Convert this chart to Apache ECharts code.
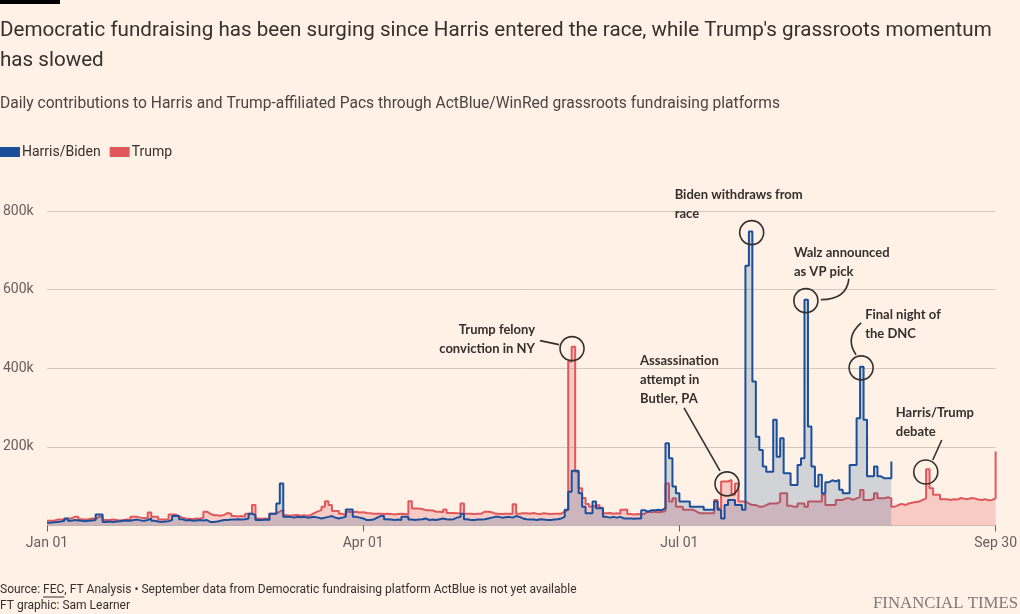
<!DOCTYPE html>
<html><head><meta charset="utf-8">
<script src="https://cdn.jsdelivr.net/npm/echarts@6/dist/echarts.min.js"></script>
<style>html,body{margin:0;padding:0;background:#fff1e5;}#c{width:1020px;height:614px;}</style>
</head><body><div id="c"></div>
<script>
// ---- data (thousands of US$ per day; index 0 = Jan 01 2024) ----
const seriesNames = ['Harris/Biden', 'Trump'];
const xTickLabels = ['Jan 01', 'Apr 01', 'Jul 01', 'Sep 30'];
const yTickLabels = ['', '200k', '400k', '600k', '800k'];

const harrisJan = [7,8,9,10,12,18,12,14,13,12,11,12,13,14,28,28,9,10,9,10,11,12,13,12,14,15,13,12,14,18,12];
const harrisFeb = [10,9,10,11,14,24,24,16,13,14,12,13,14,13,14,9,9,10,12,14,14,15,15,16,15,16,18,30,26];
const harrisMar = [14,14,15,14,30,30,56,107,22,22,20,22,21,22,20,21,22,20,18,20,22,24,20,18,20,22,41,41,22,20,18];
const harrisApr = [14,14,15,20,24,24,16,15,14,15,14,22,22,15,14,15,16,18,14,15,14,16,18,16,15,16,20,22,30,16];
const harrisMay = [14,14,15,15,16,18,20,22,22,20,21,22,20,24,22,18,16,15,15,14,16,15,14,14,15,16,18,22,40,86,139];
const harrisJun = [139,82,48,31,31,61,44,44,22,20,22,20,22,18,18,18,17,18,18,39,35,39,39,40,39,44,209,171,99,82];
const harrisJul = [61,61,61,48,48,48,48,40,40,40,61,40,18,52,65,65,52,52,40,661,748,366,226,192,150,137,137,269,175,222,133];
const harrisAug = [133,103,103,154,171,574,252,150,99,129,82,110,115,112,116,91,82,82,154,154,273,404,269,125,125,150,125,120,120,120,163];

const trumpJan = [12,12,15,15,15,18,18,22,22,16,15,16,18,17,22,22,14,14,15,14,13,14,15,14,22,22,20,19,20,33,22];
const trumpFeb = [22,15,15,16,28,28,24,20,18,17,16,18,17,20,35,30,26,26,25,27,32,30,24,23,24,22,30,30,52];
const trumpMar = [18,17,18,16,30,30,35,40,26,25,26,27,25,26,25,27,32,36,39,48,62,52,37,37,30,26,35,34,35,33,34];
const trumpApr = [32,31,30,30,30,29,30,29,28,29,30,29,28,62,43,43,42,39,39,38,35,35,34,41,32,32,31,32,56,30];
const trumpMay = [30,29,30,30,35,35,34,30,30,29,30,30,29,54,30,31,31,30,32,30,29,31,30,29,30,30,30,35,40,417,455];
const trumpJun = [137,95,70,55,48,50,52,45,31,32,30,31,30,40,41,29,28,29,28,30,35,34,35,34,35,36,107,61,69,48];
const trumpJul = [48,40,40,40,35,31,31,31,31,31,65,44,112,112,116,78,107,61,61,56,52,52,48,48,52,56,56,56,60,82,82];
const trumpAug = [50,48,48,56,56,48,61,61,61,61,78,52,52,52,65,65,69,69,65,69,73,90,65,65,68,82,69,69,72,69,48];
const trumpSep = [52,55,52,56,58,60,61,65,69,143,95,78,78,67,67,65,67,66,70,68,67,70,69,66,65,67,64,65,69,188];

const harris = [].concat(harrisJan, harrisFeb, harrisMar, harrisApr, harrisMay, harrisJun, harrisJul, harrisAug);
const trump = [].concat(trumpJan, trumpFeb, trumpMar, trumpApr, trumpMay, trumpJun, trumpJul, trumpAug, trumpSep);

// annotations: anchored at [day, value]
const annotations = [
  {lines: ['Biden withdraws from', 'race'], at: [202.8, 745], text: [-77, -38], align: 'left', leader: null},
  {lines: ['Walz announced', 'as VP pick'], at: [218.4, 572], text: [-12, -48], align: 'left', leader: {type: 'curve', p: [15, -1, 43, -22, 41, -1]}},
  {lines: ['Final night of', 'the DNC'], at: [234.3, 401], text: [4, -53], align: 'left', leader: {type: 'curve', p: [0, -45, -5, -13, -17, -30]}},
  {lines: ['Trump felony', 'conviction in NY'], at: [151.1, 450], text: [-37, -19], align: 'right', leader: {type: 'line', p: [-32, -8, -13, -4]}},
  {lines: ['Assassination', 'attempt in', 'Butler, PA'], at: [195.7, 106], text: [-87, -123], align: 'left', leader: {type: 'line', p: [-43, -76, -7, -13]}},
  {lines: ['Harris/Trump', 'debate'], at: [252.9, 136], text: [-30, -59], align: 'left', leader: {type: 'line', p: [16, -32, 7, -12]}}
];

const BG = '#fff1e5', INK = '#33302e', GREY = '#66605c';
const BLUE = '#1b4f9c', RED = '#e0585c';
const FONT = 'Roboto, "Liberation Sans", sans-serif';
const ANN_FONT = 'Lato, "Open Sans", sans-serif';

const chart = echarts.init(document.getElementById('c'), null, {renderer: 'canvas'});
const option = {
  backgroundColor: BG,
  animation: false,
  textStyle: {fontFamily: FONT},
  grid: {left: 44, right: 22, top: 211, bottom: 88.5, containLabel: false},
  legend: {
    data: seriesNames, left: 0, top: 145, padding: 0, icon: 'rect', itemWidth: 20, itemHeight: 10, itemGap: 9,
    textStyle: {fontSize: 14, color: INK, fontFamily: FONT, padding: [0, 0, 0, -3]}
  },
  xAxis: {
    type: 'value', min: 0, max: 273, interval: 91,
    axisLine: {show: false},
    axisTick: {show: true, length: 6, lineStyle: {color: GREY}},
    splitLine: {show: false},
    axisLabel: {color: GREY, fontSize: 14, margin: 11, showMaxLabel: true,
      formatter: v => xTickLabels[Math.round(v / 91)] || ''}
  },
  yAxis: {
    type: 'value', min: 0, max: 800, interval: 200,
    axisLine: {show: false}, axisTick: {show: false},
    splitLine: {lineStyle: {color: '#d3c8bd', width: 1}},
    axisLabel: {color: GREY, fontSize: 14, margin: 44, align: 'left',
      formatter: v => yTickLabels[Math.round(v / 200)]}
  },
  series: [
    {
      name: seriesNames[0], type: 'line', step: 'end', symbol: 'none', color: BLUE, z: 3,
      data: harris.map((v, i) => [i, v]),
      lineStyle: {color: BLUE, width: 2},
      areaStyle: {color: 'rgba(15,84,153,0.27)'}
    },
    {
      name: seriesNames[1], type: 'line', step: 'end', symbol: 'none', color: RED, z: 2,
      data: trump.map((v, i) => [i, v]),
      lineStyle: {color: RED, width: 2},
      areaStyle: {color: 'rgba(224,76,80,0.32)'}
    }
  ]
};
chart.setOption(option);

// ---- texts & annotations ----
const g = [];
g.push({type: 'rect', shape: {x: 0, y: 0, width: 60, height: 4}, style: {fill: '#000'}, silent: true});
g.push({type: 'text', left: 0, top: 16, style: {text: "Democratic fundraising has been surging since Harris entered the race, while Trump's grassroots momentum\nhas slowed", fill: INK, font: '20.6px ' + FONT, lineHeight: 30}});
g.push({type: 'text', left: 0, top: 96, style: {text: 'Daily contributions to Harris and Trump-affiliated Pacs through ActBlue/WinRed grassroots fundraising platforms', fill: '#4a4542', font: '15.6px ' + FONT}});

const srcPre = 'Source: ', srcLink = 'FEC', srcPost = ', FT Analysis \u2022 September data from Democratic fundraising platform ActBlue is not yet available';
const ctx = document.createElement('canvas').getContext('2d');
ctx.font = '12px ' + FONT;
const wPre = ctx.measureText(srcPre).width, wLink = ctx.measureText(srcLink).width;
g.push({type: 'text', x: 0, y: 590, style: {text: srcPre + srcLink + srcPost, fill: INK, font: '12px ' + FONT, textVerticalAlign: 'middle'}});
g.push({type: 'line', shape: {x1: wPre, y1: 597, x2: wPre + wLink, y2: 597}, style: {stroke: INK, lineWidth: 1}});
g.push({type: 'text', x: 0, y: 606, style: {text: 'FT graphic: Sam Learner', fill: INK, font: '12px ' + FONT, textVerticalAlign: 'middle'}});
g.push({type: 'text', x: 1018, y: 604, style: {text: 'FINANCIAL TIMES', fill: '#807973', font: '16.8px "Liberation Serif", serif', textAlign: 'right', textVerticalAlign: 'middle'}});

annotations.forEach(a => {
  const c = chart.convertToPixel({gridIndex: 0}, a.at);
  g.push({type: 'circle', shape: {cx: c[0], cy: c[1], r: 12}, style: {fill: 'none', stroke: INK, lineWidth: 1.6}, z: 10});
  a.lines.forEach((t, i) => {
    g.push({type: 'text', x: c[0] + a.text[0], y: c[1] + a.text[1] + i * 19,
      style: {text: t, fill: INK, font: 'bold 13px ' + ANN_FONT, textAlign: a.align, textVerticalAlign: 'middle'}, z: 10});
  });
  if (a.leader) {
    const p = a.leader.p;
    if (a.leader.type === 'line') {
      g.push({type: 'line', shape: {x1: c[0] + p[0], y1: c[1] + p[1], x2: c[0] + p[2], y2: c[1] + p[3]}, style: {stroke: INK, lineWidth: 1.6}, z: 10});
    } else {
      g.push({type: 'bezierCurve', shape: {x1: c[0] + p[0], y1: c[1] + p[1], x2: c[0] + p[2], y2: c[1] + p[3], cpx1: c[0] + p[4], cpy1: c[1] + p[5]}, style: {stroke: INK, lineWidth: 1.6, fill: 'none'}, z: 10});
    }
  }
});
chart.setOption({graphic: g});
</script>
</body></html>
